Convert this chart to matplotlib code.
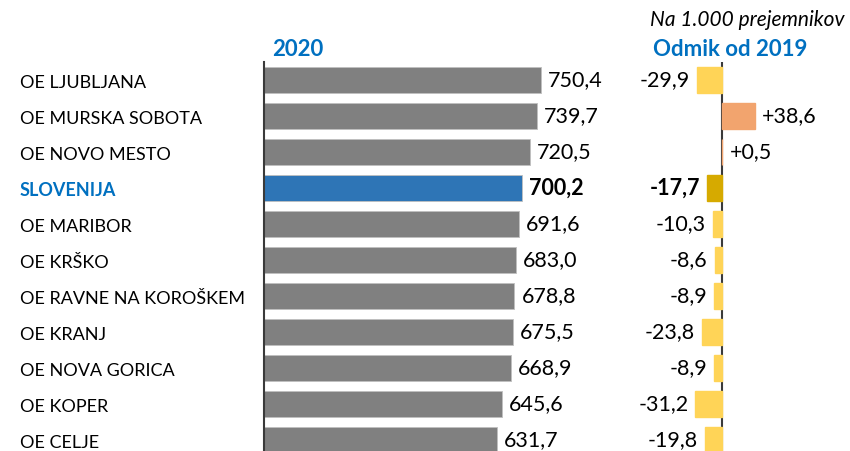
import matplotlib.pyplot as plt
from matplotlib.transforms import offset_copy

# Data (na 1.000 prejemnikov)
regions = ["OE LJUBLJANA", "OE MURSKA SOBOTA", "OE NOVO MESTO", "SLOVENIJA",
           "OE MARIBOR", "OE KRŠKO", "OE RAVNE NA KOROŠKEM", "OE KRANJ",
           "OE NOVA GORICA", "OE KOPER", "OE CELJE"]
values_2020 = [750.4, 739.7, 720.5, 700.2, 691.6, 683.0, 678.8, 675.5, 668.9, 645.6, 631.7]
diff_2019 = [-29.9, 38.6, 0.5, -17.7, -10.3, -8.6, -8.9, -23.8, -8.9, -31.2, -19.8]
highlight = "SLOVENIJA"

plt.rcParams['font.family'] = ['Lato', 'DejaVu Sans']

W, H = 850, 451
fig = plt.figure(figsize=(W / 100, H / 100), dpi=100)

BLUE_TXT = "#0070C0"
GRAY = "#808080"
BLUE_BAR = "#2E75B6"
YELLOW = "#FFD457"
DARK_YELLOW = "#D6AA00"
ORANGE = "#F2A46E"
AXIS = "#3A3A3A"


def px_axes(x0, x1, y0, y1):
    # pixel box -> figure fraction (y measured from top)
    return fig.add_axes([x0 / W, 1 - y1 / H, (x1 - x0) / W, (y1 - y0) / H])


n = len(regions)
ypos = list(range(n))
y_top, y_bot = 62, 451
row0, step = 80, 36
ylim = ((y_bot - row0) / step, (y_top - row0) / step)
bar_h = 0.7

fs_lab = 13
fs_num = 15.5
fs_head = 16

# left panel
axl = px_axes(264, 610, y_top, y_bot)
scale_l = 0.369
axl.set_xlim(0, (610 - 264) / scale_l)
axl.set_ylim(*ylim)
num_tr_l = offset_copy(axl.transData, fig=fig, y=2.0, units="dots")
lab_tr = offset_copy(axl.transData, fig=fig, y=-1.0, units="dots")

cols = [BLUE_BAR if r == highlight else GRAY for r in regions]
axl.barh(ypos, values_2020, height=bar_h, color=cols, edgecolor="#BFBFBF", linewidth=0.6)
for y, v, r in zip(ypos, values_2020, regions):
    bold = r == highlight
    axl.text(v + 7 / scale_l, y, f"{v:.1f}".replace(".", ","), va="center_baseline",
             ha="left", fontsize=fs_num, fontweight="bold" if bold else "normal",
             color="black", transform=num_tr_l)

for s in ["top", "right", "bottom"]:
    axl.spines[s].set_visible(False)
axl.spines["left"].set_color(AXIS)
axl.spines["left"].set_linewidth(1.5)
axl.set_xticks([])
axl.set_yticks([])

# row labels
for y, r in zip(ypos, regions):
    if r == highlight:
        axl.text(-244 / scale_l, y, r, va="center_baseline", ha="left", fontsize=fs_lab,
                 color=BLUE_TXT, fontweight="bold", clip_on=False, transform=lab_tr)
    else:
        axl.text(-244 / scale_l, y, r, va="center_baseline", ha="left", fontsize=fs_lab,
                 color="black", clip_on=False, transform=lab_tr)

# right panel
axr = px_axes(630, 850, y_top, y_bot)
scale_r = 0.85
axr.set_xlim(-(722 - 630) / scale_r, (850 - 722) / scale_r)
axr.set_ylim(*ylim)
num_tr_r = offset_copy(axr.transData, fig=fig, y=2.0, units="dots")
dcols = []
for r, d in zip(regions, diff_2019):
    if r == highlight:
        dcols.append(DARK_YELLOW)
    elif d > 0:
        dcols.append(ORANGE)
    else:
        dcols.append(YELLOW)
axr.axvline(0, color=AXIS, linewidth=1.5, zorder=1)
# thin edge in the same colour keeps the tiny +0,5 bar visible
axr.barh(ypos, diff_2019, height=bar_h, color=dcols, edgecolor=dcols,
         linewidth=1.0, zorder=2)
for y, d, r in zip(ypos, diff_2019, regions):
    txt = f"{d:+.1f}".replace(".", ",")
    bold = "bold" if r == highlight else "normal"
    if d < 0:
        axr.text(d - 7 / scale_r, y, txt, va="center_baseline", ha="right",
                 fontsize=fs_num, fontweight=bold, transform=num_tr_r)
    else:
        axr.text(d + 7 / scale_r, y, txt, va="center_baseline", ha="left",
                 fontsize=fs_num, fontweight=bold, transform=num_tr_r)

for s in ["top", "right", "bottom", "left"]:
    axr.spines[s].set_visible(False)
axr.set_xticks([])
axr.set_yticks([])

# headers
fig.text(298 / W, 1 - 48 / H, "2020", ha="center", va="center_baseline", fontsize=fs_head,
         fontweight="bold", color=BLUE_TXT)
fig.text(730 / W, 1 - 48 / H, "Odmik od 2019", ha="center", va="center_baseline",
         fontsize=fs_head, fontweight="bold", color=BLUE_TXT)
fig.text(845 / W, 1 - 18 / H, "Na 1.000 prejemnikov", ha="right", va="center_baseline",
         fontsize=15, fontstyle="italic", color="black")

fig.savefig("out.png", dpi=100)
